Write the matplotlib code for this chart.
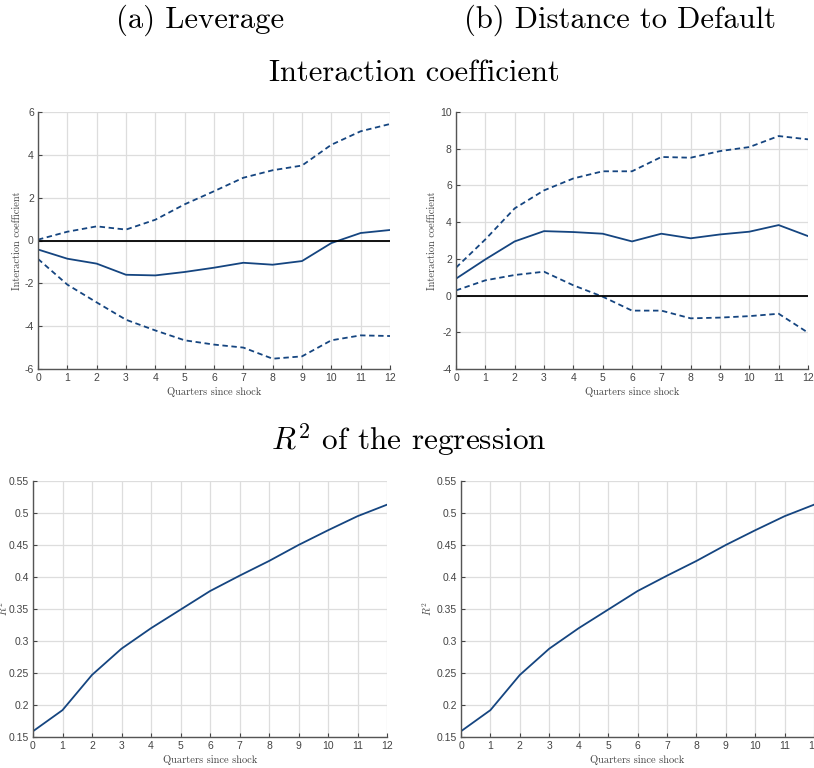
import matplotlib
matplotlib.use('Agg')
import matplotlib.pyplot as plt

plt.rcParams['mathtext.fontset'] = 'cm'
plt.rcParams['axes.unicode_minus'] = False

# 横轴：冲击后的季度
quarters = list(range(13))

# (a) Leverage 交互系数及置信区间
lev_coef = [-0.42, -0.85, -1.08, -1.60, -1.63, -1.47, -1.27, -1.04, -1.13, -0.96, -0.12, 0.35, 0.49]
lev_upper = [0.04, 0.41, 0.66, 0.51, 0.97, 1.69, 2.30, 2.93, 3.28, 3.50, 4.47, 5.10, 5.44]
lev_lower = [-0.86, -2.06, -2.89, -3.70, -4.20, -4.66, -4.86, -5.00, -5.52, -5.41, -4.66, -4.43, -4.46]

# (b) Distance to Default 交互系数及置信区间
dd_coef = [0.92, 1.97, 2.95, 3.51, 3.46, 3.37, 2.95, 3.37, 3.12, 3.33, 3.48, 3.84, 3.24]
dd_upper = [1.52, 3.06, 4.75, 5.73, 6.38, 6.77, 6.77, 7.55, 7.51, 7.87, 8.09, 8.69, 8.51]
dd_lower = [0.28, 0.83, 1.12, 1.30, 0.56, -0.06, -0.82, -0.82, -1.24, -1.20, -1.12, -0.99, -2.02]

# 回归 R^2（两个面板相同）
lev_r2 = [0.159, 0.192, 0.247, 0.288, 0.320, 0.349, 0.378, 0.402, 0.425, 0.450, 0.473, 0.495, 0.513]
dd_r2 = [0.159, 0.192, 0.247, 0.288, 0.320, 0.349, 0.378, 0.402, 0.425, 0.450, 0.473, 0.495, 0.513]

line_col = '#154580'
tick_col = '#444444'
W, H = 814, 768

fig = plt.figure(figsize=(W / 100, H / 100), dpi=100)


def make_axes(x0, x1, ytop, ybot):
    return fig.add_axes([x0 / W, 1 - ybot / H, (x1 - x0) / W, (ybot - ytop) / H])


def style(ax, ylabel, ypad=2):
    ax.set_xlim(0, 12)
    ax.set_xticks(quarters)
    ax.grid(True, color='#dddddd', linewidth=0.9)
    ax.set_axisbelow(True)
    for s in ['top', 'right']:
        ax.spines[s].set_visible(False)
    for s in ['left', 'bottom']:
        ax.spines[s].set_color('#555555')
        ax.spines[s].set_linewidth(1.0)
    ax.tick_params(colors=tick_col, labelsize=7.5, length=3, width=0.8, direction='in', pad=3)
    for lab in ax.get_xticklabels() + ax.get_yticklabels():
        lab.set_family('Liberation Sans')
    ax.set_xlabel('Quarters since shock', family='cmr10', fontsize=7.5, color=tick_col, labelpad=3)
    ax.set_ylabel(ylabel, family='cmr10', fontsize=7.5, color=tick_col, labelpad=ypad)


# 上排：交互系数
ax1 = make_axes(38, 390, 112, 369)
ax1.plot(quarters, lev_coef, color=line_col, lw=1.3)
ax1.plot(quarters, lev_upper, color=line_col, lw=1.3, ls='--', dashes=(3, 2))
ax1.plot(quarters, lev_lower, color=line_col, lw=1.3, ls='--', dashes=(3, 2))
ax1.axhline(0, color='black', lw=1.3)
ax1.set_ylim(-6, 6)
ax1.set_yticks(range(-6, 7, 2))
style(ax1, 'Interaction coefficient')

ax2 = make_axes(456, 808, 112, 369)
ax2.plot(quarters, dd_coef, color=line_col, lw=1.3)
ax2.plot(quarters, dd_upper, color=line_col, lw=1.3, ls='--', dashes=(3, 2))
ax2.plot(quarters, dd_lower, color=line_col, lw=1.3, ls='--', dashes=(3, 2))
ax2.axhline(0, color='black', lw=1.3)
ax2.set_ylim(-4, 10)
ax2.set_yticks(range(-4, 11, 2))
style(ax2, 'Interaction coefficient')

# 下排：R^2
r2_ticks = [0.15, 0.2, 0.25, 0.3, 0.35, 0.4, 0.45, 0.5, 0.55]
r2_labels = ['0.15', '0.2', '0.25', '0.3', '0.35', '0.4', '0.45', '0.5', '0.55']

ax3 = make_axes(33, 387, 481, 737)
ax3.plot(quarters, lev_r2, color=line_col, lw=1.3)
ax3.set_ylim(0.15, 0.55)
ax3.set_yticks(r2_ticks)
ax3.set_yticklabels(r2_labels)
style(ax3, r'$R^2$', ypad=-1)

ax4 = make_axes(461, 814, 481, 737)
ax4.plot(quarters, dd_r2, color=line_col, lw=1.3)
ax4.set_ylim(0.15, 0.55)
ax4.set_yticks(r2_ticks)
ax4.set_yticklabels(r2_labels)
style(ax4, r'$R^2$')

# 标题
fig.text(200 / W, 1 - 20 / H, '(a) Leverage', family='cmr10', fontsize=22, ha='center', va='center')
fig.text(620 / W, 1 - 20 / H, '(b) Distance to Default', family='cmr10', fontsize=22, ha='center', va='center')
fig.text(414 / W, 1 - 73 / H, 'Interaction coefficient', family='cmr10', fontsize=22, ha='center', va='center')
fig.text(409 / W, 1 - 440 / H, r'$R^2$ of the regression', family='cmr10', fontsize=22.5, ha='center', va='center')

fig.savefig('out.png', dpi=100)
